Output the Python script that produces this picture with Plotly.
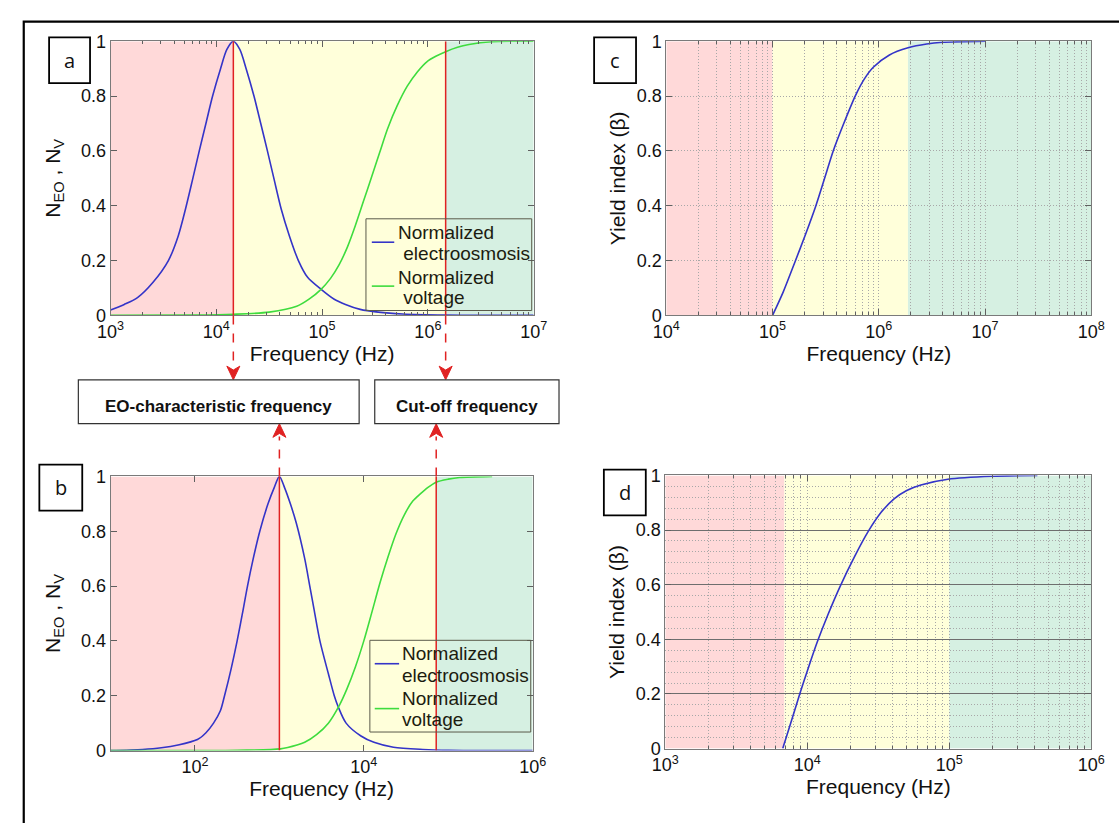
import plotly.graph_objects as go

W, H = 1119, 823
def X(px): return px / W
def Y(py): return 1 - py / H

# ---------------- data ----------------
# Panel a : normalized electroosmosis (blue) and normalized voltage (green)
a_eo_freq = [1000, 1349, 1799, 2512, 3524, 4365, 5129, 5962, 6902, 7977, 9226, 10965, 12589, 14488,
             16672, 19143, 22698, 26303, 30409, 35237, 40926, 49091, 59704, 72611, 97949, 129122,
             166341, 229087, 338844, 577000, 1449000, 1e7]
a_eo_val = [0.02, 0.04, 0.065, 0.12, 0.2, 0.29, 0.39, 0.495, 0.6, 0.7, 0.8, 0.9, 0.97, 1.0,
            0.97, 0.9, 0.8, 0.7, 0.6, 0.495, 0.39, 0.29, 0.2, 0.14, 0.095, 0.06,
            0.04, 0.022, 0.012, 0.005, 0.001, 0.0]
a_v_freq = [1000, 6310, 14488, 31623, 57544, 75858, 97724, 120226, 144544, 173780, 205589, 245471,
            293089, 350752, 416869, 512861, 638263, 794328, 977237, 1202264, 1472312, 1905461,
            2448436, 3981072, 1e7]
a_v_val = [0.0, 0.001, 0.004, 0.012, 0.033, 0.06, 0.095, 0.135, 0.184, 0.25, 0.326, 0.415,
           0.504, 0.595, 0.682, 0.765, 0.836, 0.888, 0.925, 0.946, 0.962, 0.978,
           0.988, 0.998, 1.0]
a_marks = [14488, 1472312]          # EO-characteristic frequency, cut-off frequency
a_zones = [1e3, 14488, 1472312, 1e7]

# Panel b
b_eo_freq = [10, 24, 40, 63, 107, 135, 166, 200, 224, 269, 316, 365, 419, 490, 586, 733, 871, 1000,
             1148, 1349, 1585, 1995, 2291, 2570, 3020, 3811, 4467, 4966, 6166, 9247, 13183, 22439,
             50119, 1e5, 1e6]
b_eo_val = [0.0, 0.004, 0.01, 0.02, 0.04, 0.065, 0.1, 0.145, 0.2, 0.3, 0.4, 0.5, 0.6, 0.7, 0.8, 0.9,
            0.96, 1.0, 0.96, 0.9, 0.83, 0.7, 0.6, 0.516, 0.4, 0.279, 0.2, 0.16, 0.1, 0.053, 0.03,
            0.012, 0.004, 0.001, 0.0]
b_v_freq = [10, 316, 1030, 1618, 1995, 2754, 3802, 5129, 6310, 7943, 10000, 12445, 15488, 19320,
            23988, 30200, 38019, 46989, 57544, 71945, 100000, 136144, 331131]
b_v_val = [0.0, 0.001, 0.006, 0.02, 0.03, 0.058, 0.1, 0.165, 0.225, 0.305, 0.40, 0.504, 0.61, 0.706,
           0.79, 0.86, 0.91, 0.937, 0.96, 0.979, 0.99, 0.996, 1.0]
b_marks = [1000, 72000]
b_zones = [10, 1000, 72000, 1e6]

# Panel c : yield index
c_freq = [1e5, 125893, 162555, 204174, 255859, 309030, 372392, 467735, 599791, 724436,
          887156, 1258925, 1883649, 2818383, 3981072, 1e7]
c_val = [0.0, 0.085, 0.195, 0.295, 0.4, 0.5, 0.6, 0.7, 0.8, 0.86, 0.905, 0.95, 0.976, 0.99,
         0.996, 1.0]
c_zones = [1e4, 1e5, 1.88e6, 1e8]

# Panel d : yield index
d_freq = [6714, 7762, 8913, 10233, 11749, 13964, 17061, 21380, 26853, 33113, 41020, 50119, 63096,
          97724, 199526, 416869]
d_val = [0.0, 0.105, 0.205, 0.3, 0.39, 0.49, 0.595, 0.7, 0.795, 0.865, 0.915, 0.945, 0.965, 0.986,
         0.997, 1.0]
d_zones = [1e3, 6900, 1e5, 1e6]

# tick labels
a_ticks = [1e3, 1e4, 1e5, 1e6, 1e7]
a_ticktext = ["10<sup>3</sup>", "10<sup>4</sup>", "10<sup>5</sup>", "10<sup>6</sup>", "10<sup>7</sup>"]
b_ticks = [1e2, 1e4, 1e6]
b_ticktext = ["10<sup>2</sup>", "10<sup>4</sup>", "10<sup>6</sup>"]
c_ticks = [1e4, 1e5, 1e6, 1e7, 1e8]
c_ticktext = ["10<sup>4</sup>", "10<sup>5</sup>", "10<sup>6</sup>", "10<sup>7</sup>", "10<sup>8</sup>"]
d_ticks = [1e3, 1e4, 1e5, 1e6]
d_ticktext = ["10<sup>3</sup>", "10<sup>4</sup>", "10<sup>5</sup>", "10<sup>6</sup>"]

legend_lines_a = ["Normalized", "\u00a0electroosmosis", "Normalized", "\u00a0voltage"]
legend_lines_b = ["Normalized", "electroosmosis", "Normalized", "voltage"]

# ---------------- styles ----------------
FONT = "Liberation Sans, Arial, sans-serif"
BLUE = "#3434C8"
GREEN = "#3EDC3E"
RED = "#E02222"
ZONE_COLORS = ["#FFD9D9", "#FFFFDA", "#D6F0E2"]
FRAME = "#7a7a7a"
TICK = "#606060"

def minor_vals(lo, hi):
    return [m * 10 ** e for e in range(lo, hi) for m in range(2, 10)]

fig = go.Figure()

def curve(x, y, xa, ya, color):
    fig.add_trace(go.Scatter(
        x=x, y=y, xaxis=xa, yaxis=ya, mode="lines",
        line=dict(color=color, width=1.6, shape="spline", smoothing=0.8),
        showlegend=False, hoverinfo="skip"))

def redline(f, xa, ya):
    fig.add_trace(go.Scatter(x=[f, f], y=[0, 1], xaxis=xa, yaxis=ya, mode="lines",
                             line=dict(color=RED, width=1.5), showlegend=False, hoverinfo="skip"))

curve(a_eo_freq, a_eo_val, "x", "y", BLUE)
curve(a_v_freq, a_v_val, "x", "y", GREEN)
for f in a_marks:
    redline(f, "x", "y")
curve(b_eo_freq, b_eo_val, "x2", "y2", BLUE)
curve(b_v_freq, b_v_val, "x2", "y2", GREEN)
for f in b_marks:
    redline(f, "x2", "y2")
curve(c_freq, c_val, "x3", "y3", BLUE)
curve(d_freq, d_val, "x4", "y4", BLUE)

shapes = []
annotations = []

# coloured frequency zones
for xr, yr, zones in [("x", "y", a_zones), ("x2", "y2", b_zones), ("x3", "y3", c_zones), ("x4", "y4", d_zones)]:
    for i in range(3):
        shapes.append(dict(type="rect", xref=xr, yref=yr, x0=zones[i], x1=zones[i + 1], y0=0, y1=1,
                           fillcolor=ZONE_COLORS[i], line=dict(width=0), layer="below"))

# legends (drawn box, sample lines and text)
def legend(box, line_x, line_ys, text_x, text_ys, lines):
    x0, y0, x1, y1 = box
    shapes.append(dict(type="rect", xref="paper", yref="paper", x0=X(x0), x1=X(x1), y0=Y(y1), y1=Y(y0),
                       line=dict(color="#5a5a4a", width=1), fillcolor="rgba(0,0,0,0)"))
    for ly, col in zip(line_ys, [BLUE, GREEN]):
        shapes.append(dict(type="line", xref="paper", yref="paper", x0=X(line_x[0]), x1=X(line_x[1]),
                           y0=Y(ly), y1=Y(ly), line=dict(color=col, width=1.6)))
    for ty, txt in zip(text_ys, lines):
        annotations.append(dict(xref="paper", yref="paper", x=X(text_x), y=Y(ty), text=txt, showarrow=False,
                                xanchor="left", yanchor="middle", font=dict(size=19, family=FONT, color="#1c1c10")))

legend((361, 214, 531, 308), (367, 390), [238, 283], 392, [228, 250, 274, 295], legend_lines_a)
legend((365, 646, 530, 740), (370, 395), [670, 716], 396, [660, 682, 706, 727], legend_lines_b)

# dashed connectors with arrowheads
def arrow(xr, f, y_from, y_head, y_tip):
    shapes.append(dict(type="line", xref=xr, yref="paper", x0=f, x1=f, y0=Y(y_from), y1=Y(y_head),
                       line=dict(color=RED, width=1.5, dash="dash")))
    s = 1 if y_tip > y_head else -1
    path = "M -6.5 {a} L 0 {t} L 6.5 {a} L 0 {m} Z".format(
        a=Y(y_head - s * 1), t=Y(y_tip), m=Y(y_head + s * 3))
    shapes.append(dict(type="path", xref=xr, yref="paper", xsizemode="pixel", xanchor=f,
                       path=path, fillcolor=RED, line=dict(color=RED, width=1)))

arrow("x", a_marks[0], 313, 366, 379)
arrow("x", a_marks[1], 313, 366, 379)
arrow("x2", b_marks[0], 478, 437, 424)
arrow("x2", b_marks[1], 478, 437, 424)

# text boxes between panels
for (x0, y0, x1, y1, txt) in [(66, 379, 354, 424, "EO-characteristic frequency"),
                               (370, 379, 559, 424, "Cut-off frequency")]:
    shapes.append(dict(type="rect", xref="paper", yref="paper", x0=X(x0), x1=X(x1), y0=Y(y1), y1=Y(y0),
                       line=dict(color="#333", width=1.2), fillcolor="white"))
    annotations.append(dict(xref="paper", yref="paper", x=X((x0 + x1) / 2), y=Y(406), text="<b>" + txt + "</b>",
                            showarrow=False, font=dict(size=17, family=FONT, color="#111"),
                            xanchor="center", yanchor="middle"))

# panel letter boxes
for (x0, y0, x1, y1, txt) in [(36, 28, 78, 75, "a"), (595, 28, 638, 75, "c"),
                               (26, 466, 70, 513, "b"), (605, 471, 648, 518, "d")]:
    shapes.append(dict(type="rect", xref="paper", yref="paper", x0=X(x0), x1=X(x1), y0=Y(y1), y1=Y(y0),
                       line=dict(color="black", width=1.8), fillcolor="white"))
    annotations.append(dict(xref="paper", yref="paper", x=X((x0 + x1) / 2), y=Y((y0 + y1) / 2), text=txt,
                            showarrow=False, font=dict(size=20, family="Open Sans, sans-serif", color="#111"),
                            xanchor="center", yanchor="middle"))

# outer frame
shapes.append(dict(type="rect", xref="paper", yref="paper", x0=X(10), x1=1.05, y0=-0.05, y1=Y(12),
                   line=dict(color="black", width=2.2), fillcolor="rgba(0,0,0,0)", layer="above"))

TICKFONT = dict(size=18, family=FONT, color="#111")
TITLEFONT = dict(size=21, family=FONT, color="#111")
GRID = "#a8a8a8"
GDASH = "1px,2px"

def xax(dom, rng, tv, tt, anchor, minor=None, grid=False):
    d = dict(type="log", domain=dom, range=rng, anchor=anchor, tickmode="array", tickvals=tv, ticktext=tt,
             showline=True, linecolor=FRAME, linewidth=1, mirror="ticks", ticks="inside", ticklen=6,
             tickcolor=TICK, tickfont=TICKFONT, zeroline=False,
             showgrid=grid, gridcolor=GRID, griddash=GDASH, gridwidth=1,
             title=dict(text="Frequency (Hz)", font=TITLEFONT, standoff=4))
    if minor is not None:
        d["minor"] = dict(tickmode="array", tickvals=minor, ticks="inside", ticklen=3, tickcolor=TICK,
                          showgrid=grid, gridcolor=GRID, griddash=GDASH, gridwidth=1)
    return d

def yax(dom, anchor, title, standoff, grid=False, solid=False, minor=False):
    d = dict(domain=dom, range=[0, 1], anchor=anchor, dtick=0.2, tick0=0, showline=True, linecolor=FRAME,
             linewidth=1, mirror="ticks", ticks="inside", ticklen=6, tickcolor=TICK, tickfont=TICKFONT,
             zeroline=False, showgrid=grid, gridcolor="#6e6e6e" if solid else GRID,
             griddash="solid" if solid else GDASH, gridwidth=1,
             title=dict(text=title, font=TITLEFONT, standoff=standoff))
    if minor:
        d["minor"] = dict(dtick=0.04, tick0=0, showgrid=True, gridcolor=GRID, griddash=GDASH,
                          gridwidth=1, ticks="")
    return d

ytitle_n = "N<sub>EO</sub> , N<sub>V</sub>"
ytitle_y = "Yield index (\u03b2)"

fig.update_layout(
    width=W, height=H, autosize=False, margin=dict(l=0, r=0, t=0, b=0),
    paper_bgcolor="white", plot_bgcolor="white", font=dict(family=FONT), showlegend=False,
    xaxis=xax([X(99), X(533)], [3, 7], a_ticks, a_ticktext, "y", minor=minor_vals(3, 7)),
    yaxis=yax([Y(313), Y(32)], "x", ytitle_n, 14),
    xaxis2=xax([X(99), X(532)], [1, 6], b_ticks, b_ticktext, "y2"),
    yaxis2=yax([Y(759), Y(478)], "x2", ytitle_n, 14),
    xaxis3=xax([X(669), X(1105)], [4, 8], c_ticks, c_ticktext, "y3", minor=minor_vals(4, 8), grid=True),
    yaxis3=yax([Y(313), Y(32)], "x3", ytitle_y, 5, grid=True),
    xaxis4=xax([X(668), X(1105)], [3, 6], d_ticks, d_ticktext, "y4", minor=minor_vals(3, 6), grid=True),
    yaxis4=yax([Y(757), Y(477)], "x4", ytitle_y, 5, grid=True, solid=True, minor=True),
    shapes=shapes, annotations=annotations,
)

fig.write_html("out.html", config={"displayModeBar": False})
